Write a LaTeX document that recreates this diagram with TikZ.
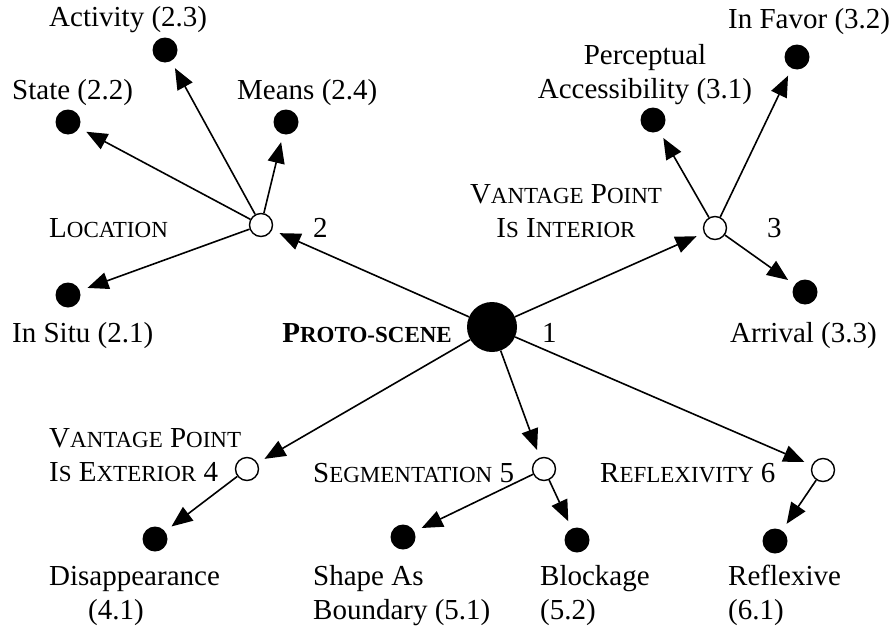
\documentclass[tikz,border=0pt]{standalone}
\usepackage{fontspec}
\setmainfont{Liberation Serif}
\usepackage{tikz}
\usetikzlibrary{arrows.meta}
\newcommand\smc[1]{{\fontsize{23}{34}\selectfont #1}}

\begin{document}
\begin{tikzpicture}[x=1pt, y=-1pt,
  sense/.style={circle, fill, inner sep=0pt, minimum size=25pt},
  cluster/.style={circle, draw, fill=white, line width=1.4pt, inner sep=0pt, minimum size=23pt},
  proto/.style={circle, fill, inner sep=0pt, minimum size=50pt},
  txt/.style={inner sep=0pt, font=\fontsize{29}{34}\selectfont, anchor=base west, align=left},
  arrow/.style={-{Triangle[length=21pt, width=17pt]}, line width=1.6pt, shorten >=8pt}
]
  \useasboundingbox (0,0) rectangle (896,629);
  \node[proto] (ps) at (492,327) {};
  \node[cluster] (c2) at (261,225) {};
  \node[cluster] (c3) at (715,228) {};
  \node[cluster] (c4) at (247,469) {};
  \node[cluster] (c5) at (544,469) {};
  \node[cluster] (c6) at (823,470) {};
  \node[sense] (s21) at (68,295) {};
  \node[sense] (s22) at (68,122) {};
  \node[sense] (s23) at (165,50) {};
  \node[sense] (s24) at (286,122) {};
  \node[sense] (s31) at (653,120) {};
  \node[sense] (s32) at (797,57) {};
  \node[sense] (s33) at (805,292) {};
  \node[sense] (s41) at (155,539) {};
  \node[sense] (s51) at (403,537) {};
  \node[sense] (s52) at (577,540) {};
  \node[sense] (s61) at (775,541) {};
  \node[txt] (t23) at (49,27) {Activity (2.3)};
  \node[txt] (t22) at (12,99) {State (2.2)};
  \node[txt] (t24) at (237,99) {Means (2.4)};
  \node[txt] (tloc) at (49,237) {L\smc{OCATION}};
  \node[txt] (n2) at (313,237) {2};
  \node[txt] (t21) at (12,342) {In Situ (2.1)};
  \node[txt, anchor=base east] (tps) at (452,342) {\textbf{P\smc{ROTO-SCENE}}};
  \node[txt] (n1) at (542,342) {1};
  \node[txt, align=center, anchor=base] (t31) at (645,98) {Perceptual\\Accessibility (3.1)};
  \node[txt] (t32) at (728,28) {In Favor (3.2)};
  \node[txt, align=center, anchor=base] (tint) at (566,237) {V\smc{ANTAGE} P\smc{OINT}\\I\smc{S} I\smc{NTERIOR}};
  \node[txt] (n3) at (767,237) {3};
  \node[txt] (t33) at (730,342) {Arrival (3.3)};
  \node[txt] (text) at (49,481) {V\smc{ANTAGE} P\smc{OINT}\\I\smc{S} E\smc{XTERIOR} 4};
  \node[txt] (tseg) at (313,482) {S\smc{EGMENTATION} 5};
  \node[txt] (tref) at (600,482) {R\smc{EFLEXIVITY} 6};
  \node[txt] (t41) at (49,619) {Disappearance\\\hspace*{39pt}(4.1)};
  \node[txt] (t51) at (313,619) {Shape As\\Boundary (5.1)};
  \node[txt] (t52) at (540,619) {Blockage\\(5.2)};
  \node[txt] (t61) at (728,619) {Reflexive\\(6.1)};
  \draw[arrow] (ps) -- (c2);
  \draw[arrow] (ps) -- (c3);
  \draw[arrow] (ps) -- (c4);
  \draw[arrow] (ps) -- (c5);
  \draw[arrow] (ps) -- (c6);
  \draw[arrow] (c2) -- (s21);
  \draw[arrow] (c2) -- (s22);
  \draw[arrow] (c2) -- (s23);
  \draw[arrow] (c2) -- (s24);
  \draw[arrow] (c3) -- (s31);
  \draw[arrow] (c3) -- (s32);
  \draw[arrow] (c3) -- (s33);
  \draw[arrow] (c4) -- (s41);
  \draw[arrow] (c5) -- (s51);
  \draw[arrow] (c5) -- (s52);
  \draw[arrow] (c6) -- (s61);
\end{tikzpicture}
\end{document}
